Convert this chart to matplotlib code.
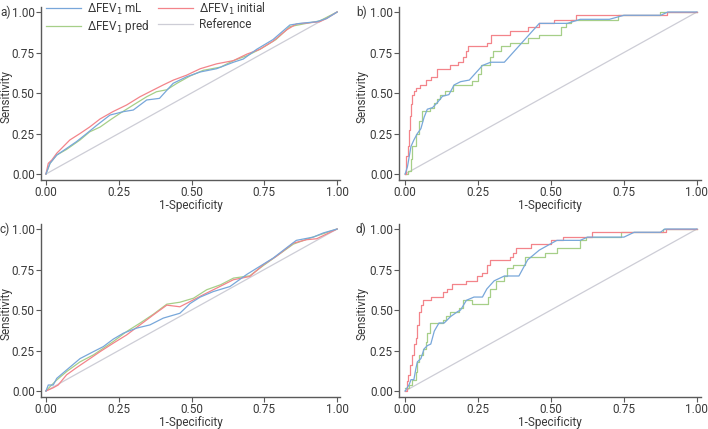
import matplotlib
matplotlib.use("Agg")
import matplotlib.pyplot as plt

plt.rcParams['font.family'] = ['Roboto', 'DejaVu Sans']

# ---------------- data ----------------
# Panel a
a_mL_x = [0, 0.014, 0.037, 0.071, 0.105, 0.14, 0.174, 0.22, 0.266, 0.30, 0.346, 0.39, 0.437, 0.483, 0.53, 0.586, 0.644, 0.678, 0.724, 0.78, 0.838, 0.873, 0.93, 0.964, 1.0]
a_mL_y = [0, 0.066, 0.117, 0.158, 0.20, 0.25, 0.30, 0.364, 0.385, 0.395, 0.457, 0.467, 0.56, 0.60, 0.63, 0.65, 0.69, 0.71, 0.77, 0.83, 0.92, 0.93, 0.94, 0.96, 1.0]
a_init_x = [0, 0.008, 0.02, 0.037, 0.06, 0.082, 0.117, 0.15, 0.186, 0.23, 0.277, 0.323, 0.357, 0.403, 0.438, 0.483, 0.53, 0.586, 0.644, 0.69, 0.735, 0.78, 0.827, 0.86, 0.907, 0.94, 0.964, 1.0]
a_init_y = [0, 0.066, 0.086, 0.128, 0.17, 0.21, 0.25, 0.29, 0.34, 0.385, 0.426, 0.477, 0.508, 0.55, 0.58, 0.61, 0.65, 0.68, 0.70, 0.74, 0.77, 0.82, 0.89, 0.926, 0.934, 0.94, 0.96, 1.0]
a_pred_x = [0, 0.014, 0.037, 0.071, 0.117, 0.15, 0.186, 0.22, 0.254, 0.30, 0.346, 0.38, 0.415, 0.45, 0.495, 0.54, 0.60, 0.644, 0.69, 0.735, 0.79, 0.838, 0.895, 0.94, 1.0]
a_pred_y = [0, 0.066, 0.117, 0.152, 0.21, 0.26, 0.29, 0.333, 0.374, 0.426, 0.477, 0.508, 0.52, 0.56, 0.605, 0.64, 0.66, 0.70, 0.73, 0.77, 0.83, 0.91, 0.93, 0.945, 1.0]

# Panel b
b_mL_x = [0, 0.008, 0.02, 0.03, 0.042, 0.054, 0.065, 0.076, 0.094, 0.11, 0.128, 0.15, 0.168, 0.19, 0.22, 0.265, 0.293, 0.34, 0.42, 0.46, 0.556, 0.60, 0.70, 0.75, 0.876, 0.90, 1.0]
b_mL_y = [0, 0.045, 0.17, 0.21, 0.25, 0.28, 0.35, 0.40, 0.41, 0.44, 0.48, 0.49, 0.55, 0.57, 0.58, 0.67, 0.69, 0.69, 0.85, 0.93, 0.93, 0.955, 0.955, 0.98, 0.98, 1.0, 1.0]
b_init_x = [0, 0.003, 0.009, 0.012, 0.016, 0.02, 0.025, 0.03, 0.037, 0.05, 0.07, 0.09, 0.108, 0.155, 0.18, 0.20, 0.21, 0.215, 0.28, 0.295, 0.358, 0.42, 0.46, 0.51, 0.585, 0.898, 1.0]
b_init_y = [0, 0.11, 0.17, 0.27, 0.36, 0.43, 0.49, 0.51, 0.53, 0.55, 0.58, 0.60, 0.65, 0.67, 0.69, 0.72, 0.76, 0.79, 0.81, 0.86, 0.88, 0.91, 0.93, 0.95, 0.98, 1.0, 1.0]
b_pred_x = [0, 0.01, 0.02, 0.025, 0.037, 0.048, 0.057, 0.086, 0.10, 0.11, 0.12, 0.135, 0.165, 0.228, 0.25, 0.26, 0.29, 0.30, 0.33, 0.36, 0.42, 0.46, 0.535, 0.55, 0.57, 0.73, 0.875, 1.0]
b_pred_y = [0, 0.02, 0.09, 0.17, 0.25, 0.33, 0.39, 0.41, 0.44, 0.46, 0.49, 0.51, 0.55, 0.574, 0.62, 0.67, 0.72, 0.76, 0.79, 0.81, 0.84, 0.86, 0.91, 0.93, 0.95, 0.98, 1.0, 1.0]

# Panel c
c_mL_x = [0, 0.008, 0.025, 0.037, 0.071, 0.117, 0.163, 0.197, 0.231, 0.266, 0.311, 0.357, 0.403, 0.46, 0.495, 0.53, 0.575, 0.632, 0.69, 0.735, 0.78, 0.838, 0.86, 0.918, 0.953, 1.0]
c_mL_y = [0, 0.037, 0.037, 0.078, 0.13, 0.20, 0.243, 0.274, 0.32, 0.357, 0.388, 0.408, 0.45, 0.48, 0.54, 0.58, 0.614, 0.645, 0.72, 0.77, 0.82, 0.90, 0.93, 0.95, 0.976, 1.0]
c_init_x = [0, 0.025, 0.042, 0.071, 0.105, 0.151, 0.186, 0.231, 0.277, 0.323, 0.369, 0.415, 0.46, 0.495, 0.54, 0.586, 0.644, 0.70, 0.747, 0.79, 0.85, 0.895, 0.93, 1.0]
c_init_y = [0, 0.02, 0.037, 0.10, 0.144, 0.20, 0.243, 0.295, 0.346, 0.408, 0.47, 0.53, 0.52, 0.552, 0.594, 0.635, 0.687, 0.707, 0.78, 0.83, 0.913, 0.934, 0.94, 1.0]
c_pred_x = [0, 0.014, 0.037, 0.071, 0.117, 0.163, 0.197, 0.231, 0.277, 0.323, 0.369, 0.415, 0.46, 0.507, 0.552, 0.60, 0.644, 0.70, 0.747, 0.79, 0.85, 0.907, 1.0]
c_pred_y = [0, 0.027, 0.068, 0.12, 0.18, 0.223, 0.264, 0.305, 0.367, 0.419, 0.474, 0.536, 0.548, 0.573, 0.625, 0.656, 0.697, 0.711, 0.775, 0.83, 0.907, 0.944, 1.0]

# Panel d
d_mL_x = [0, 0.014, 0.02, 0.03, 0.037, 0.042, 0.054, 0.065, 0.076, 0.088, 0.10, 0.116, 0.134, 0.156, 0.18, 0.19, 0.21, 0.236, 0.265, 0.28, 0.305, 0.34, 0.39, 0.42, 0.46, 0.50, 0.52, 0.60, 0.625, 0.75, 0.785, 0.875, 0.89, 1.0]
d_mL_y = [0, 0.04, 0.07, 0.07, 0.14, 0.18, 0.20, 0.26, 0.28, 0.29, 0.37, 0.42, 0.42, 0.46, 0.49, 0.50, 0.56, 0.58, 0.58, 0.63, 0.68, 0.71, 0.71, 0.81, 0.87, 0.91, 0.93, 0.93, 0.95, 0.95, 0.98, 0.98, 1.0, 1.0]
d_init_x = [0, 0.008, 0.011, 0.017, 0.025, 0.03, 0.037, 0.042, 0.048, 0.054, 0.06, 0.088, 0.13, 0.145, 0.16, 0.21, 0.245, 0.265, 0.28, 0.29, 0.36, 0.37, 0.38, 0.43, 0.50, 0.54, 0.64, 0.895, 1.0]
d_init_y = [0, 0.06, 0.10, 0.16, 0.22, 0.29, 0.33, 0.41, 0.49, 0.53, 0.56, 0.58, 0.61, 0.63, 0.66, 0.68, 0.71, 0.73, 0.78, 0.81, 0.83, 0.85, 0.88, 0.91, 0.93, 0.95, 0.98, 1.0, 1.0]
d_pred_x = [0, 0.014, 0.025, 0.037, 0.042, 0.048, 0.06, 0.07, 0.076, 0.085, 0.13, 0.14, 0.155, 0.185, 0.20, 0.23, 0.285, 0.29, 0.31, 0.34, 0.35, 0.37, 0.41, 0.48, 0.52, 0.60, 0.62, 0.74, 0.885, 1.0]
d_pred_y = [0.02, 0.04, 0.07, 0.12, 0.18, 0.22, 0.26, 0.30, 0.36, 0.42, 0.44, 0.46, 0.49, 0.51, 0.56, 0.54, 0.58, 0.63, 0.68, 0.71, 0.76, 0.78, 0.83, 0.85, 0.88, 0.93, 0.95, 0.98, 1.0, 1.0]

ref_x = [0, 1]
ref_y = [0, 1]

tick_vals = [0.0, 0.25, 0.5, 0.75, 1.0]
tick_labels = ["0.00", "0.25", "0.50", "0.75", "1.00"]
panel_labels = ["a)", "b)", "c)", "d)"]
series_labels = ["ΔFEV$_1$ mL", "ΔFEV$_1$ initial", "ΔFEV$_1$ pred", "Reference"]

# ---------------- style ----------------
C_BLUE = "#78a7da"
C_RED = "#f3848a"
C_GREEN = "#a6cf88"
C_REF = "#cdcdd6"
TXT = "#3a3a3a"
SPINE = "#5a5a5a"

W, H = 708, 429
fig = plt.figure(figsize=(W / 100, H / 100), dpi=100)

# pixel boxes: (left, right, top, bottom) of spines
boxes = [(41, 340, 7, 180), (399, 701, 7, 180), (41, 340, 224, 397), (399, 701, 224, 397)]
xlims = [(-0.017, 1.010), (-0.021, 1.014), (-0.017, 1.010), (-0.021, 1.014)]
ylim = (-0.037, 1.031)
panel_label_x = [0, 356, 0, 356]
ylabel_x = [6, 362, 6, 362]

panels = [
    (a_mL_x, a_mL_y, a_init_x, a_init_y, a_pred_x, a_pred_y, False),
    (b_mL_x, b_mL_y, b_init_x, b_init_y, b_pred_x, b_pred_y, True),
    (c_mL_x, c_mL_y, c_init_x, c_init_y, c_pred_x, c_pred_y, False),
    (d_mL_x, d_mL_y, d_init_x, d_init_y, d_pred_x, d_pred_y, True),
]

FS = 8.5
axes = []
for i, (box, xl, pdata) in enumerate(zip(boxes, xlims, panels)):
    l, r, t, b = box
    ax = fig.add_axes([l / W, 1 - b / H, (r - l) / W, (b - t) / H])
    mx, my, ix, iy, px, py, stepped = pdata
    ds = 'steps-post' if stepped else 'default'
    lw = 0.9
    h_ref, = ax.plot(ref_x, ref_y, color=C_REF, lw=lw, zorder=1)
    h_pred, = ax.plot(px, py, color=C_GREEN, lw=lw, drawstyle=ds, zorder=2)
    h_init, = ax.plot(ix, iy, color=C_RED, lw=lw, drawstyle=ds, zorder=3)
    h_mL, = ax.plot(mx, my, color=C_BLUE, lw=lw, zorder=4)
    ax.set_xlim(*xl)
    ax.set_ylim(*ylim)
    ax.set_xticks(tick_vals)
    ax.set_xticklabels(tick_labels)
    ax.set_yticks(tick_vals)
    ax.set_yticklabels(tick_labels)
    for s in ['top', 'right']:
        ax.spines[s].set_visible(False)
    for s in ['left', 'bottom']:
        ax.spines[s].set_color(SPINE)
        ax.spines[s].set_linewidth(1.0)
    ax.tick_params(direction='out', length=3.5, width=0.8, color=SPINE,
                   labelsize=FS, labelcolor=TXT, pad=1.0)
    ax.set_xlabel("1-Specificity", fontsize=FS, color=TXT)
    ax.set_ylabel("Sensitivity", fontsize=FS, color=TXT)
    ax.xaxis.set_label_coords(((l + r) / 2) / W, 1 - (b + 19) / H, transform=fig.transFigure)
    ax.xaxis.label.set_verticalalignment('top')
    ax.yaxis.set_label_coords(ylabel_x[i] / W, 1 - ((t + b) / 2 + 3) / H, transform=fig.transFigure)
    ax.yaxis.label.set_verticalalignment('center')
    y1_px = t + (ylim[1] - 1.0) / (ylim[1] - ylim[0]) * (b - t)
    fig.text(panel_label_x[i] / W, 1 - y1_px / H, panel_labels[i],
             fontsize=FS, color=TXT, ha='left', va='center')
    axes.append((ax, h_mL, h_init, h_pred, h_ref))

ax0, h_mL, h_init, h_pred, h_ref = axes[0]
leg = ax0.legend([h_mL, h_pred, h_init, h_ref],
                 [series_labels[0], series_labels[2], series_labels[1], series_labels[3]],
                 ncol=2, frameon=False, fontsize=FS, handlelength=3.0,
                 loc='upper left', bbox_to_anchor=(46 / W, 1.0 - 0.5 / H),
                 bbox_transform=fig.transFigure, borderaxespad=0, borderpad=0,
                 columnspacing=0.7, handletextpad=0.5, labelspacing=0.12)
for t in leg.get_texts():
    t.set_color(TXT)

fig.savefig("out.png", dpi=100)
